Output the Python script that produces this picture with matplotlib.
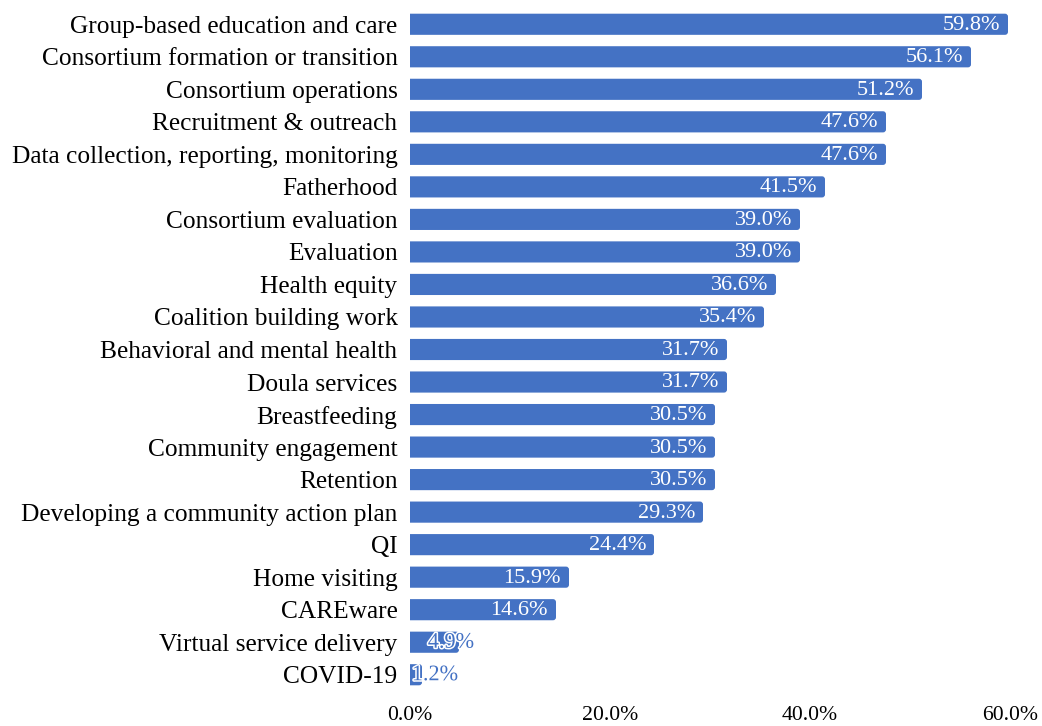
import matplotlib
matplotlib.use("Agg")
import matplotlib.pyplot as plt
from matplotlib.patches import FancyBboxPatch
import matplotlib.patheffects as pe
from matplotlib.ticker import FuncFormatter

categories = [
    "Group-based education and care",
    "Consortium formation or transition",
    "Consortium operations",
    "Recruitment & outreach",
    "Data collection, reporting, monitoring",
    "Fatherhood",
    "Consortium evaluation",
    "Evaluation",
    "Health equity",
    "Coalition building work",
    "Behavioral and mental health",
    "Doula services",
    "Breastfeeding",
    "Community engagement",
    "Retention",
    "Developing a community action plan",
    "QI",
    "Home visiting",
    "CAREware",
    "Virtual service delivery",
    "COVID-19",
]
values = [59.8, 56.1, 51.2, 47.6, 47.6, 41.5, 39.0, 39.0, 36.6, 35.4,
          31.7, 31.7, 30.5, 30.5, 30.5, 29.3, 24.4, 15.9, 14.6, 4.9, 1.2]
x_ticks = [0, 20, 40, 60]

BLUE = "#4472C4"
FONT = "Liberation Serif"

W, H = 1042, 726
fig = plt.figure(figsize=(W / 100, H / 100), dpi=100)
ax = fig.add_axes([410 / W, 1 - 691 / H, 600 / W, 683 / H])

n = len(categories)
bar_h = 0.65
r_x = 0.3                     # corner radius in data x-units (~3 px)
aspect = (3 / 32.5) / r_x     # y/x ratio so corners look circular

for i, v in enumerate(values):
    box = FancyBboxPatch((-1, i - bar_h / 2), v + 1, bar_h,
                         boxstyle=f"round,pad=0,rounding_size={r_x}",
                         mutation_aspect=aspect,
                         facecolor=BLUE, edgecolor="none", clip_on=True)
    ax.add_patch(box)
    label = f"{v:.1f}%"
    if v >= 10:
        ax.text(v - 0.8, i + 0.03, label, ha="right", va="center",
                color="white", fontsize=16, family=FONT)
    else:
        t = ax.text(max(v - 0.8, 2.5), i + 0.03, label, ha="center", va="center",
                    color=BLUE, fontsize=16, family=FONT)
        t.set_path_effects([pe.withStroke(linewidth=2.2, foreground="white")])

ax.set_xlim(0, 60)
ax.set_ylim(n - 0.5, -0.5)
ax.set_yticks(range(n))
ax.set_yticklabels(categories, family=FONT, fontsize=18.3)
ax.set_xticks(x_ticks)
ax.xaxis.set_major_formatter(FuncFormatter(lambda x, _: f"{x:.1f}%"))
for lab in ax.get_xticklabels():
    lab.set_family(FONT)
    lab.set_fontsize(15.7)
ax.tick_params(axis="both", length=0)
ax.tick_params(axis="y", pad=9)
ax.tick_params(axis="x", pad=10.5)
for s in ax.spines.values():
    s.set_visible(False)

fig.savefig("out.png", dpi=100)
